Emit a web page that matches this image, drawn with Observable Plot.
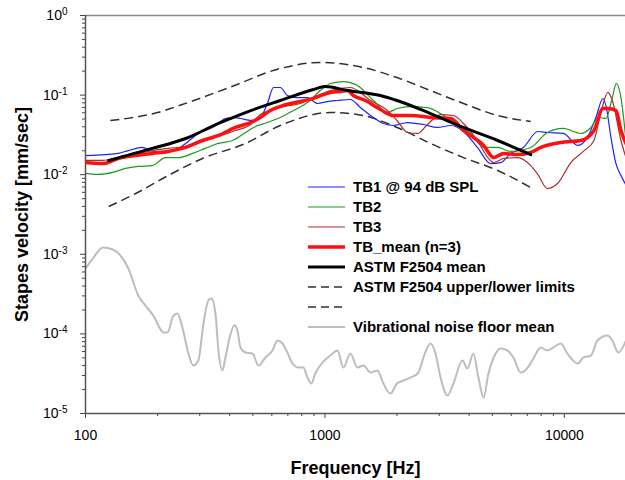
<!DOCTYPE html>
<html><head><meta charset="utf-8">
<script src="https://cdn.jsdelivr.net/npm/d3@7"></script>
<script src="https://cdn.jsdelivr.net/npm/@observablehq/plot@0.6"></script>
<style>
body{margin:0;background:#fff;font-family:"Liberation Sans",Arial,sans-serif;}
</style></head><body><div id="chart"></div>
<script>
// ---- Data (frequency in Hz, stapes velocity in mm/sec) ----
const tb1Freq = [100,121,137,151,173,187,202,238,262,296,339,384,411,444,489,537,575,610,651,697,768,845,930,1024,1128,1277,1407,1549,1755,1931,2210,2578,2950,3348,3790,4333,4922,5420,5969,6745,7743,8490,9900,11380,12480,13540,14490,14970,15650,16420,17230,18080];
const tb1Vel  = [0.0174,0.0179,0.0185,0.0201,0.022,0.0201,0.0196,0.0207,0.0247,0.033,0.0392,0.0508,0.0523,0.0508,0.048,0.0523,0.0784,0.1246,0.1246,0.099,0.093,0.093,0.0784,0.083,0.0855,0.088,0.0698,0.0554,0.044,0.0415,0.0452,0.0427,0.0392,0.0415,0.0349,0.022,0.0138,0.0142,0.0185,0.022,0.0349,0.0339,0.033,0.0233,0.0294,0.0523,0.0906,0.0698,0.0294,0.0138,0.0098,0.0074];

const tb2Freq = [100,113,130,147,166,190,216,245,280,316,359,411,466,503,575,651,739,845,957,1054,1194,1367,1594,1824,2000,2277,2680,3040,3440,4059,4600,5267,5969,7238,8490,9900,11720,12910,13870,14910,15860,16480,17230,18080];
const tb2Vel  = [0.0104,0.0101,0.0107,0.012,0.0127,0.013,0.0164,0.0164,0.0185,0.0214,0.0247,0.0269,0.0339,0.0392,0.0452,0.0523,0.064,0.0807,0.114,0.14,0.148,0.132,0.0855,0.0604,0.0679,0.0718,0.0698,0.0587,0.0452,0.033,0.022,0.022,0.0196,0.022,0.0339,0.0381,0.033,0.0392,0.0523,0.0508,0.093,0.14,0.093,0.0269];

const tb3Freq = [100,118,137,162,190,222,262,308,359,423,489,537,591,670,789,895,1054,1277,1549,1824,2000,2210,2430,2680,3040,3440,3790,4333,4820,5067,5580,6385,7238,7743,8490,9388,10640,12000,13290,14210,15200,15860,17230,18080];
const tb3Vel  = [0.0151,0.0151,0.0164,0.0179,0.0201,0.0214,0.0227,0.0261,0.0302,0.0359,0.0427,0.057,0.064,0.0718,0.0784,0.093,0.114,0.1246,0.0855,0.064,0.048,0.0339,0.033,0.0427,0.057,0.0554,0.044,0.0269,0.016,0.0142,0.016,0.0164,0.013,0.0101,0.0067,0.0078,0.0142,0.0196,0.0269,0.0604,0.108,0.0855,0.0269,0.0164];

const meanFreq = [100,118,137,162,190,222,262,308,359,423,489,537,591,670,789,895,1054,1160,1242,1315,1476,1705,1931,2277,2760,3348,3792,4600,5067,5580,6385,7238,7970,9664,11720,13290,14490,15200,16420,17230,18080];
const meanVel  = [0.0142,0.0138,0.016,0.0174,0.0185,0.0196,0.022,0.0269,0.0311,0.0392,0.0452,0.0523,0.064,0.074,0.083,0.091,0.108,0.111,0.114,0.099,0.0855,0.066,0.0554,0.0554,0.0523,0.0508,0.0359,0.0233,0.0164,0.0185,0.0179,0.019,0.022,0.0254,0.0269,0.0359,0.0679,0.0679,0.064,0.0359,0.0247];

const astmFreq = [125,190,262,359,466,651,895,1000,1242,1705,2000,2760,3790,5267,7238];
const astmMean = [0.0151,0.0214,0.0285,0.044,0.0604,0.0855,0.1176,0.128,0.1142,0.0988,0.0855,0.0587,0.0392,0.0269,0.0179];

const upperFreq = [127,150,200,250,400,651,957,1448,2000,2760,3790,5267,7238];
const astmUpper = [0.048,0.051,0.0604,0.075,0.125,0.216,0.257,0.222,0.166,0.114,0.0784,0.0554,0.0466];

const lowerFreq = [125,162,222,308,466,651,1054,1448,2000,2760,3790,5267,7238];
const astmLower = [0.00398,0.0058,0.0098,0.016,0.0247,0.0415,0.0604,0.0554,0.0392,0.0247,0.0164,0.0113,0.0069];

const noiseFreq = [100,108,118,130,140,151,166,178,192,212,220,233,242,254,269,282,296,311,326,336,349,359,373,384,404,419,431,444,466,498,528,564,604,633,665,697,732,775,813,845,878,911,977,1054,1128,1194,1277,1367,1448,1549,1656,1755,1877,2000,2127,2277,2457,2578,2760,2897,3040,3251,3440,3751,3937,4169,4375,4600,4818,5067,5420,5781,6124,6573,7031,7423,7970,8490,8995,9664,10290,11380,12000,12910,13740,15120,15860,16810,18080];
const noiseVel  = [6.63e-4,9.1e-4,1.22e-3,1.15e-3,9.66e-4,6.63e-4,3.04e-4,2.27e-4,1.70e-4,1.04e-4,1.04e-4,1.70e-4,1.80e-4,1.20e-4,5.67e-5,4.01e-5,4.63e-5,1.35e-4,2.63e-4,2.78e-4,1.80e-4,6.19e-5,3.47e-5,5.05e-5,1.01e-4,1.28e-4,1.10e-4,6.75e-5,5.84e-5,5.67e-5,4.01e-5,5.05e-5,6.19e-5,8.27e-5,7.58e-5,5.84e-5,4.25e-5,3.78e-5,3.78e-5,2.83e-5,2.38e-5,3.18e-5,4.37e-5,5.35e-5,6.19e-5,3.78e-5,5.67e-5,3.78e-5,4.01e-5,3.27e-5,3.47e-5,2.38e-5,1.78e-5,2.38e-5,2.60e-5,2.83e-5,3.27e-5,5.05e-5,7.58e-5,5.67e-5,2.83e-5,1.68e-5,2.38e-5,4.63e-5,3.68e-5,5.67e-5,2.83e-5,1.59e-5,3.18e-5,5.05e-5,6.55e-5,6.19e-5,5.05e-5,3.27e-5,3.78e-5,4.91e-5,6.75e-5,6.19e-5,6.75e-5,7.58e-5,5.67e-5,4.25e-5,5.05e-5,5.35e-5,8.27e-5,9.55e-5,8.27e-5,5.84e-5,8.27e-5];

const xMajorTicks = [100, 1000, 10000];
const yMajorTicks = [1e-5, 1e-4, 1e-3, 1e-2, 1e-1, 1];
const yTickLabels = ["10^-5","10^-4","10^-3","10^-2","10^-1","10^0"];

const legendLabels = ["TB1 @ 94 dB SPL","TB2","TB3","TB_mean (n=3)","ASTM F2504 mean","ASTM F2504 upper/lower limits","","Vibrational noise floor mean"];

// ---- styles ----
const C = {tb1:"#2020ff", tb2:"#1e9a1e", tb3:"#a83030", mean:"#ff1010", astm:"#000000", lim:"#303030", noise:"#bdbdbd"};
const legendStyles = [
  {stroke:C.tb1, w:1.2}, {stroke:C.tb2, w:1.2}, {stroke:C.tb3, w:1.2}, {stroke:C.mean, w:3.5},
  {stroke:C.astm, w:3}, {stroke:C.lim, w:1.5, dash:"8,5"}, {stroke:C.lim, w:1.5, dash:"8,5"}, {stroke:C.noise, w:2}
];

const toRows = (f, v) => f.map((d, i) => ({f: d, v: v[i]}));

// minor ticks
const xMinor = [];
for (const m of [100, 1000, 10000]) for (let k = 2; k <= 9; k++) if (m * k <= 18000) xMinor.push(m * k);
const yMinor = [];
for (const m of [1e-5, 1e-4, 1e-3, 1e-2, 1e-1]) for (let k = 2; k <= 9; k++) yMinor.push(m * k);

const lineOpts = (stroke, w, extra = {}) => ({x: "f", y: "v", stroke, strokeWidth: w, curve: "monotone-x", clip: true, strokeLinejoin: "round", strokeLinecap: "round", ...extra});

const svg = Plot.plot({
  width: 625, height: 480,
  marginTop: 15, marginBottom: 67, marginLeft: 85, marginRight: 0,
  style: {fontFamily: "'Liberation Sans', Arial, sans-serif", fontSize: "14px", background: "white", color: "#000", overflow: "visible"},
  x: {type: "log", domain: [100, 18000]},
  y: {type: "log", domain: [1e-5, 1]},
  marks: [
    Plot.ruleY([1], {stroke: "#8a8a8a", strokeWidth: 1.5}),
    Plot.line(toRows(noiseFreq, noiseVel), lineOpts(C.noise, 2)),
    Plot.line(toRows(upperFreq, astmUpper), lineOpts(C.lim, 1.5, {strokeDasharray: "9,5", strokeLinecap: "butt"})),
    Plot.line(toRows(lowerFreq, astmLower), lineOpts(C.lim, 1.5, {strokeDasharray: "9,5", strokeLinecap: "butt"})),
    Plot.line(toRows(tb1Freq, tb1Vel), lineOpts(C.tb1, 1.2)),
    Plot.line(toRows(tb2Freq, tb2Vel), lineOpts(C.tb2, 1.2)),
    Plot.line(toRows(tb3Freq, tb3Vel), lineOpts(C.tb3, 1.2)),
    Plot.line(toRows(meanFreq, meanVel), lineOpts(C.mean, 3.5)),
    Plot.line(toRows(astmFreq, astmMean), lineOpts(C.astm, 3)),
    Plot.axisX({ticks: xMinor, tickSize: 3, tickFormat: () => "", label: null, stroke: "#444"}),
    Plot.axisX({ticks: xMajorTicks, tickSize: 5, tickPadding: 12, tickFormat: d3.format("d"), label: null, stroke: "#444", fontSize: 14}),
    Plot.axisY({ticks: yMinor, tickSize: 3, tickFormat: () => "", label: null, stroke: "#444"}),
    Plot.axisY({ticks: yMajorTicks, tickSize: 5, tickPadding: 13, tickFormat: d => yTickLabels[yMajorTicks.indexOf(d)], label: null, stroke: "#444", fontSize: 14}),
    Plot.ruleX([100], {stroke: "#555", strokeWidth: 1.5}),
    Plot.ruleY([1e-5], {stroke: "#555", strokeWidth: 1.5}),
    Plot.text(["Frequency [Hz]"], {text: d => d, frameAnchor: "bottom", lineAnchor: "middle", textAnchor: "middle", dy: 55, fontSize: 18, fontWeight: "bold"}),
    Plot.text(["Stapes velocity [mm/sec]"], {text: d => d, frameAnchor: "left", lineAnchor: "middle", textAnchor: "middle", dx: -63, rotate: -90, fontSize: 18, fontWeight: "bold"})
  ]
});

// superscript exponents on y tick labels
d3.select(svg).selectAll("text").each(function () {
  const m = /^10\^(.+)$/.exec(this.textContent);
  if (m) {
    const s = d3.select(this);
    s.text("10");
    s.append("tspan").attr("dy", "-0.5em").attr("font-size", "10px").text(m[1]);
  }
});

// legend inside the plot
const lg = d3.select(svg).append("g").attr("font-size", 15).attr("font-weight", "bold").attr("text-anchor", "start");
legendLabels.forEach((lab, i) => {
  const y = 187 + i * 20;
  const st = legendStyles[i];
  lg.append("line").attr("x1", 308).attr("x2", 345).attr("y1", y).attr("y2", y)
    .attr("stroke", st.stroke).attr("stroke-width", st.w).attr("stroke-dasharray", st.dash || null);
  lg.append("text").attr("x", 353).attr("y", y).attr("dy", "0.35em").attr("text-anchor", "start").text(lab);
});

document.getElementById("chart").appendChild(svg);
</script>
</body></html>
